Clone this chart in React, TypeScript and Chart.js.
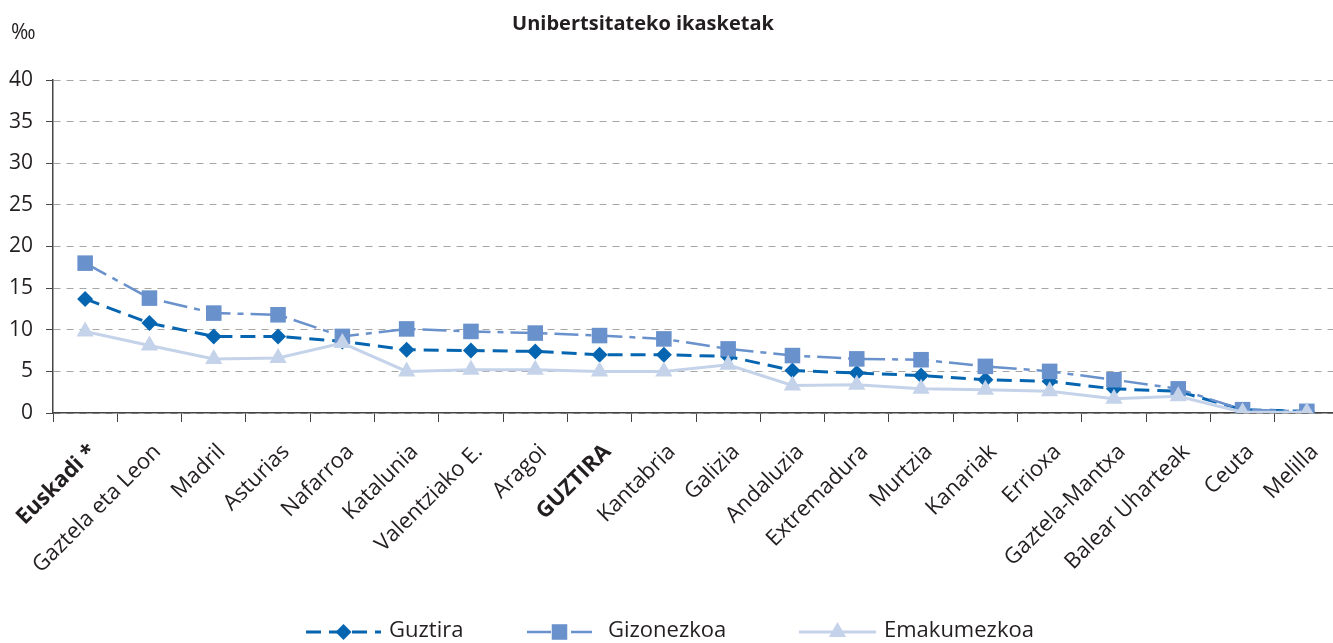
import React, { useEffect, useRef } from "react";
import { Chart, registerables } from "chart.js";

Chart.register(...registerables);

const TITLE = "Unibertsitateko ikasketak";
const UNIT = "‰";

const categories = [
  "Euskadi *",
  "Gaztela eta Leon",
  "Madril",
  "Asturias",
  "Nafarroa",
  "Katalunia",
  "Valentziako E.",
  "Aragoi",
  "GUZTIRA",
  "Kantabria",
  "Galizia",
  "Andaluzia",
  "Extremadura",
  "Murtzia",
  "Kanariak",
  "Errioxa",
  "Gaztela-Mantxa",
  "Balear Uharteak",
  "Ceuta",
  "Melilla",
];
const boldCategories = ["Euskadi *", "GUZTIRA"];

const guztira = [13.7, 10.8, 9.2, 9.2, 8.6, 7.6, 7.5, 7.4, 7.0, 7.0, 6.8, 5.1, 4.8, 4.5, 4.0, 3.8, 2.9, 2.6, 0.4, 0.2];
const gizonezkoa = [18.0, 13.8, 12.0, 11.8, 9.2, 10.1, 9.8, 9.6, 9.3, 8.9, 7.7, 6.9, 6.5, 6.4, 5.6, 5.0, 4.0, 2.9, 0.4, 0.2];
const emakumezkoa = [9.8, 8.1, 6.5, 6.6, 8.4, 5.0, 5.2, 5.2, 5.0, 5.0, 5.8, 3.3, 3.4, 2.9, 2.8, 2.6, 1.7, 2.0, 0.1, 0.1];

const seriesNames = ["Guztira", "Gizonezkoa", "Emakumezkoa"];
const yMin = 0;
const yMax = 40;
const yStep = 5;

const FONT = '"Open Sans", "DejaVu Sans", sans-serif';

const C1 = "#0565b0";
const C2 = "#6991cc";
const C3 = "#c5d3ea";

function drawMarker(ctx: CanvasRenderingContext2D, style: string, x: number, y: number, r: number) {
  ctx.beginPath();
  if (style === "rectRot") {
    ctx.moveTo(x, y - r);
    ctx.lineTo(x + r, y);
    ctx.lineTo(x, y + r);
    ctx.lineTo(x - r, y);
  } else if (style === "rect") {
    const s = r * Math.SQRT1_2;
    ctx.rect(x - s, y - s, 2 * s, 2 * s);
  } else {
    ctx.moveTo(x, y - r);
    ctx.lineTo(x + r * Math.cos(Math.PI / 6), y + r / 2);
    ctx.lineTo(x - r * Math.cos(Math.PI / 6), y + r / 2);
  }
  ctx.closePath();
  ctx.fill();
}

const decorPlugin = {
  id: "decor",
  afterDraw(chart: any) {
    const ctx: CanvasRenderingContext2D = chart.ctx;
    ctx.save();
    ctx.fillStyle = "#231f20";
    ctx.textBaseline = "middle";
    ctx.textAlign = "center";
    ctx.font = `bold 20px ${FONT}`;
    ctx.fillText(TITLE, 643, 24);
    ctx.textAlign = "left";
    ctx.font = `21px ${FONT}`;
    ctx.fillText(UNIT, 11, 33);

    const pos = [
      { x0: 306, x1: 381, tx: 389 },
      { x0: 527, x1: 592, tx: 608 },
      { x0: 799, x1: 876, tx: 884 },
    ];
    const ly = 632;
    chart.data.datasets.forEach((ds: any, i: number) => {
      const p = pos[i];
      ctx.strokeStyle = ds.borderColor;
      ctx.lineWidth = ds.borderWidth;
      ctx.setLineDash(ds.borderDash || []);
      ctx.beginPath();
      ctx.moveTo(p.x0, ly);
      ctx.lineTo(p.x1, ly);
      ctx.stroke();
      ctx.setLineDash([]);
      ctx.fillStyle = ds.pointBackgroundColor;
      drawMarker(ctx, ds.pointStyle, (p.x0 + p.x1) / 2, ly, ds.pointRadius);
      ctx.fillStyle = "#231f20";
      ctx.font = `22px ${FONT}`;
      ctx.textAlign = "left";
      ctx.fillText(ds.label, p.tx, ly - 1);
    });
    ctx.restore();
  },
};

export default function App() {
  const ref = useRef<HTMLCanvasElement | null>(null);

  useEffect(() => {
    if (!ref.current) return;
    const chart = new Chart(ref.current, {
      type: "line",
      data: {
        labels: categories,
        datasets: [
          {
            label: seriesNames[0],
            data: guztira,
            borderColor: C1,
            backgroundColor: C1,
            pointBackgroundColor: C1,
            pointBorderColor: C1,
            borderWidth: 3,
            borderDash: [15, 8],
            pointStyle: "rectRot",
            pointRadius: 8,
            pointBorderWidth: 0,
            order: 3,
          },
          {
            label: seriesNames[1],
            data: gizonezkoa,
            borderColor: C2,
            backgroundColor: C2,
            pointBackgroundColor: C2,
            pointBorderColor: C2,
            borderWidth: 2.5,
            borderDash: [24, 7, 6, 7],
            pointStyle: "rect",
            pointRadius: 11,
            pointBorderWidth: 0,
            order: 2,
          },
          {
            label: seriesNames[2],
            data: emakumezkoa,
            borderColor: C3,
            backgroundColor: C3,
            pointBackgroundColor: C3,
            pointBorderColor: C3,
            borderWidth: 3,
            borderDash: [],
            pointStyle: "triangle",
            pointRadius: 10,
            pointBorderWidth: 0,
            order: 1,
          },
        ] as any,
      },
      options: {
        animation: false,
        responsive: false,
        maintainAspectRatio: false,
        devicePixelRatio: 1,
        layout: { padding: { top: 80, right: 6, left: 0, bottom: 0 } },
        plugins: {
          legend: { display: false },
          title: { display: false },
          tooltip: { enabled: false },
        },
        elements: { line: { tension: 0 } },
        scales: {
          x: {
            offset: true,
            afterFit: (s: any) => {
              s.height = 230;
              s.paddingLeft = 0;
              s.paddingRight = 0;
            },
            grid: {
              offset: true,
              drawOnChartArea: false,
              drawTicks: true,
              tickLength: 9,
              color: "#444",
              lineWidth: 1,
            },
            border: { display: true, color: "#444", width: 1.5 },
            ticks: {
              autoSkip: false,
              minRotation: 45,
              maxRotation: 45,
              padding: 17,
              labelOffset: 8,
              color: "#231f20",
              font: (c: any) => {
                const lab = categories[c.index];
                return {
                  family: FONT,
                  size: 22,
                  weight: boldCategories.includes(lab) ? "bold" : "normal",
                } as any;
              },
            },
          },
          y: {
            min: yMin,
            max: yMax,
            afterFit: (s: any) => {
              s.width = 53;
            },
            grid: {
              color: "#a6a6a6",
              lineWidth: 1,
              tickColor: "#444",
              tickBorderDash: [],
              tickLength: 7,
              drawTicks: true,
            } as any,
            border: { display: true, color: "#444", width: 1.5, dash: [7, 6] } as any,
            ticks: {
              stepSize: yStep,
              padding: 13,
              color: "#231f20",
              font: { family: FONT, size: 21 },
            },
          },
        },
      },
      plugins: [decorPlugin],
    });
    return () => chart.destroy();
  }, []);

  return (
    <div
      style={{
        position: "absolute",
        left: 0,
        top: 0,
        width: 1333,
        height: 643,
        overflow: "hidden",
        background: "#fff",
      }}
    >
      <canvas ref={ref} width={1350} height={643} style={{ width: 1350, height: 643, display: "block" }} />
    </div>
  );
}
